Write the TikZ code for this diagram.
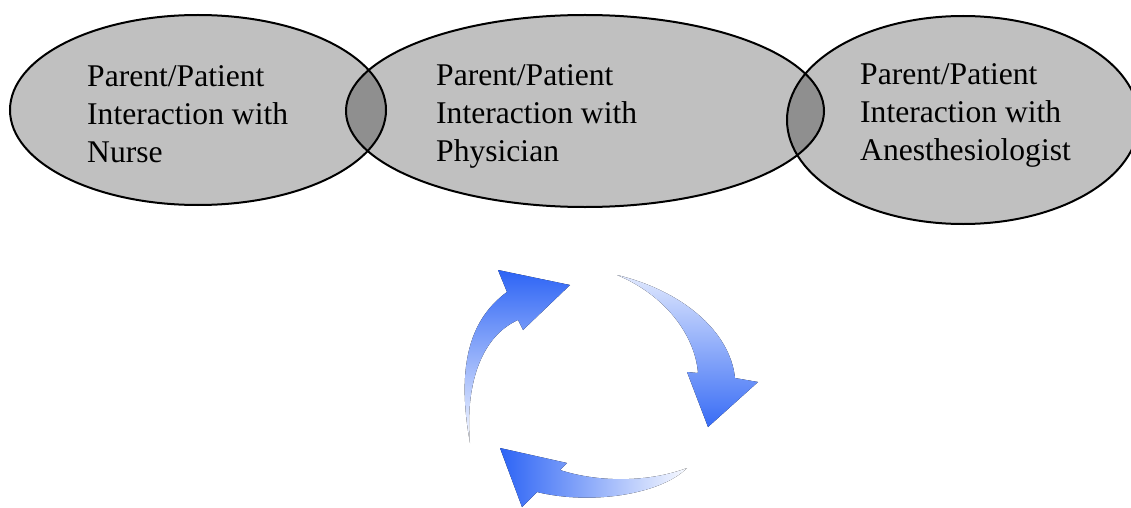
\documentclass[tikz,border=0pt]{standalone}
\usepackage{fontspec}
\setmainfont{Liberation Serif}
\begin{document}
\begin{tikzpicture}[x=1pt,y=-1pt,
  ellfill/.style={fill=ellgray},
  ellline/.style={draw=black,line width=2pt},
  label/.style={anchor=base west,inner sep=0pt,align=left,
    font=\fontsize{31.6pt}{38pt}\selectfont},
]
\definecolor{ellgray}{RGB}{192,192,192}
\definecolor{overgray}{RGB}{143,143,143}
\definecolor{arrowblue}{RGB}{45,100,245}
\useasboundingbox (0,0) rectangle (1131,508);
\clip (0,0) rectangle (1131,508);
% ellipses
\def\ellA{(198,110) ellipse [x radius=188pt, y radius=95pt]}
\def\ellB{(585,111) ellipse [x radius=239pt, y radius=96pt]}
\def\ellC{(963,120) ellipse [x radius=176pt, y radius=104pt]}
\fill[ellfill] \ellA;
\fill[ellfill] \ellB;
\fill[ellfill] \ellC;
\begin{scope}
  \clip \ellA;
  \fill[overgray] \ellB;
\end{scope}
\begin{scope}
  \clip \ellB;
  \fill[overgray] \ellC;
\end{scope}
\draw[ellline] \ellA;
\draw[ellline] \ellB;
\draw[ellline] \ellC;
% texts (anchor at baseline of last line)
\node[label] (nurse) at (87,162) {Parent/Patient\\Interaction with\\Nurse};
\node[label] (phys) at (436,161) {Parent/Patient\\Interaction with\\Physician};
\node[label] (anes) at (860,160) {Parent/Patient\\Interaction with\\Anesthesiologist};
% cycle arrows
\fill[top color=arrowblue, middle color=arrowblue!75, bottom color=arrowblue!3]
  (507,292) .. controls (473,317) and (455,360) .. (470,443)
  .. controls (465,387) and (480,337) .. (518,320)
  -- (523,330) -- (570,285) -- (498,270) -- cycle;
\fill[top color=arrowblue!15, middle color=arrowblue!65, bottom color=arrowblue!95]
  (617,275) .. controls (680,290) and (730,330) .. (735,378)
  -- (758,382) -- (708,427) -- (687,372) -- (698,373)
  .. controls (695,335) and (665,295) .. cycle;
\fill[left color=arrowblue, middle color=arrowblue!60, right color=arrowblue!3]
  (687,468) .. controls (650,482) and (600,483) .. (560,470)
  -- (567,463) -- (500,448) -- (522,507) -- (537,492)
  .. controls (590,505) and (660,495) .. cycle;
\end{tikzpicture}
\end{document}
